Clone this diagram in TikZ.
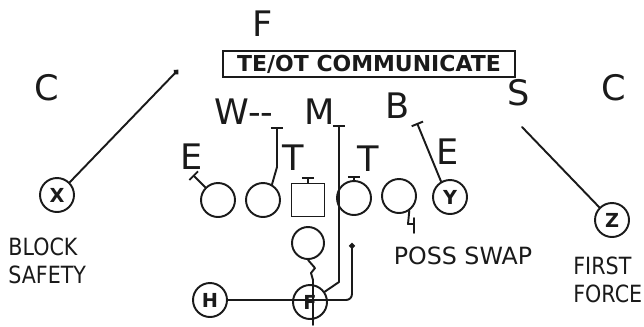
\documentclass[tikz,border=0pt]{standalone}
\usepackage{fontspec}
\setmainfont{DejaVu Sans}
\newfontfamily\narrowfont[FakeStretch=0.87]{DejaVu Sans}
\usetikzlibrary{arrows.meta}
\definecolor{Ink}{HTML}{1A1A1A}

\tikzset{
  defender/.style={font=\fontsize{20}{20}\selectfont,text=Ink,inner sep=0pt},
  lineman/.style={circle,draw=Ink,line width=1.1pt,minimum size=0.68cm,inner sep=0pt},
  player/.style={lineman,font=\bfseries\fontsize{11}{11}\selectfont,text=Ink},
  note/.style={font=\narrowfont\fontsize{13.5}{16}\selectfont,text=Ink,align=left,inner sep=0pt},
  route/.style={draw=Ink,line width=1.1pt,line cap=round,line join=round},
  block/.style={route,-{Bar[width=7pt]}},
  dotend/.style={route,-{Circle[length=3.2pt]}},
}

\begin{document}
\begin{tikzpicture}[x=0.02cm,y=-0.02cm]
\useasboundingbox (0,0) rectangle (644,326);
% defense
\node[defender] (fs) at (263,24) {F};
\node[defender] (cl) at (47,88) {C};
\node[defender] (cr) at (614,88) {C};
\node[defender] (ss) at (519,93) {S};
\node[defender] (wl) at (244,112) {W-{}-};
\node[defender] (ml) at (320,112) {M};
\node[defender] (bl) at (398,106) {B};
\node[defender] (el) at (192,157) {E};
\node[defender] (tl) at (293,158) {T};
\node[defender] (tr) at (368,159) {T};
\node[defender] (er) at (448,152) {E};
\node[draw=Ink,line width=1.2pt,minimum width=5.84cm,minimum height=0.52cm,inner sep=0pt,
  font=\bfseries\fontsize{12.5}{12.5}\selectfont,text=Ink] (call) at (369,64) {TE/OT COMMUNICATE};
% offense
\node[player] (x) at (57,195) {X};
\node[lineman] (te) at (218,200) {};
\node[lineman] (lg) at (263,200) {};
\node[draw=Ink,line width=1.1pt,minimum size=0.66cm,inner sep=0pt] (ctr) at (308,200) {};
\node[lineman] (rg) at (354,198) {};
\node[lineman] (rt) at (399,196) {};
\node[player] (y) at (450,197) {Y};
\node[player] (z) at (612,220) {Z};
\node[lineman,minimum size=0.64cm] (tb) at (308,243) {};
\node[player] (h) at (210,300) {H};
\node[player] (fb) at (310,302) {F};
% route ends
\coordinate (eTee) at (193,175);
\coordinate (lgTee) at (277,127);
\coordinate (cTee) at (308,177);
\coordinate (rgTee) at (354,176);
\coordinate (mTee) at (339,125);
\coordinate (bTee) at (417,123);
\coordinate (xEnd) at (178,70);
\coordinate (zEnd) at (522,127);
\coordinate (hEnd) at (352,243);
\coordinate (fbEnd) at (313,325);
% blocks
\draw[block] (te.135) -- (eTee);
\draw[block] (lg.60) -- (277,167) -- (lgTee);
\draw[block] (ctr.north) -- (cTee);
\draw[block] (rg.north) -- (rgTee);
\draw[block] (fb.35) -- (339,282) -- (mTee);
\draw[block] (y.120) -- (bTee);
\draw[route] (rt.-55) -- (408,224) -- (414,224) (414,218) -- (414,233);
% receivers and backs
\draw[dotend] (x.45) -- (xEnd);
\draw[route] (z.135) -- (zEnd);
\draw[dotend,rounded corners=0.12cm] (h.east) -- (352,300) -- (hEnd);
\draw[route] (tb.south) -- (315,268) -- (311,273) -- (313,280) -- (fbEnd);
% notes
\node[note,anchor=west] (safety) at (8,261) {BLOCK\\SAFETY};
\node[note,font=\fontsize{13.5}{16}\selectfont] (swap) at (463,256) {POSS SWAP};
\node[note,anchor=west] (force) at (573,280) {FIRST\\FORCE};
\end{tikzpicture}
\end{document}
